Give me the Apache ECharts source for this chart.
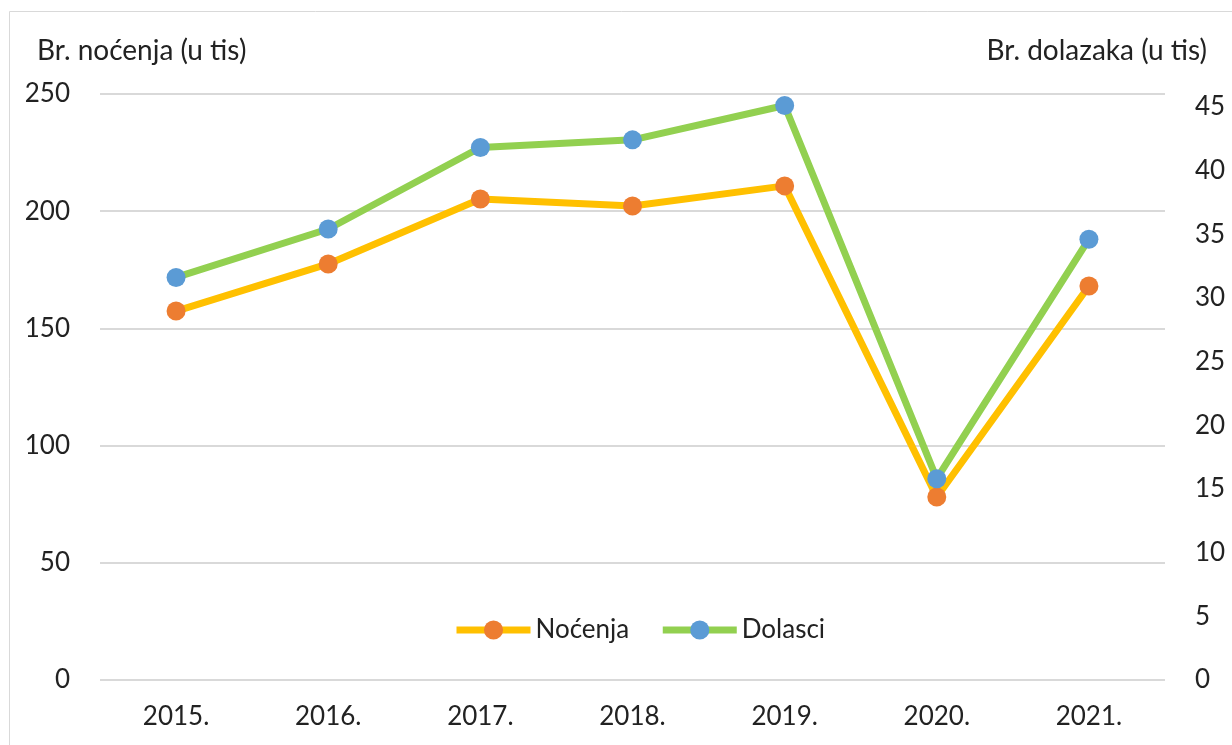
<!DOCTYPE html>
<html>
<head>
<meta charset="utf-8">
<script src="https://cdn.jsdelivr.net/npm/echarts@6/dist/echarts.min.js"></script>
<style>
  html, body { margin: 0; padding: 0; background: #fff; }
  #chart { width: 1232px; height: 745px; }
</style>
</head>
<body>
<div id="chart"></div>
<script>
const years = ['2015.', '2016.', '2017.', '2018.', '2019.', '2020.', '2021.'];
const nocenja = [157.4, 177.5, 205.2, 202.2, 210.8, 78.1, 168.1];
const dolasci = [31.6, 35.4, 41.8, 42.4, 45.1, 15.8, 34.6];

const fontFamily = 'Lato, "Open Sans", sans-serif';
const textColor = '#222';

const chart = echarts.init(document.getElementById('chart'));

chart.setOption({
  textStyle: { fontFamily: fontFamily },
  graphic: [{
    type: 'rect',
    shape: { x: 9.5, y: 11.5, width: 1240, height: 760 },
    style: { fill: 'none', stroke: '#d9d9d9', lineWidth: 1 },
    silent: true
  }],
  title: [
    {
      text: 'Br. noćenja (u tis)', left: 32, top: 32,
      textStyle: { fontFamily: fontFamily, fontSize: 28, fontWeight: 'normal', color: textColor }
    },
    {
      text: 'Br. dolazaka (u tis)', right: 20, top: 32,
      textStyle: { fontFamily: fontFamily, fontSize: 28, fontWeight: 'normal', color: textColor }
    }
  ],
  legend: {
    top: 612,
    left: 448,
    itemWidth: 74,
    itemHeight: 24,
    itemGap: 30,
    lineStyle: { width: 7 },
    textStyle: { fontFamily: fontFamily, fontSize: 26, color: textColor },
    data: ['Noćenja', 'Dolasci']
  },
  grid: { left: 100, right: 67, top: 94, bottom: 65 },
  xAxis: {
    type: 'category',
    data: years,
    axisLine: { show: false },
    axisTick: { show: false },
    axisLabel: { margin: 24, fontSize: 26, color: textColor, fontFamily: fontFamily }
  },
  yAxis: [
    {
      type: 'value',
      min: 0, max: 250, interval: 50,
      axisLine: { show: false },
      axisTick: { show: false },
      axisLabel: { margin: 30, fontSize: 26, color: textColor, fontFamily: fontFamily },
      splitLine: { lineStyle: { color: '#d9d9d9', width: 2 } }
    },
    {
      type: 'value',
      min: 0, max: 46, interval: 5,
      axisLine: { show: false },
      axisTick: { show: false },
      splitLine: { show: false },
      axisLabel: {
        margin: 30, fontSize: 26, color: textColor, fontFamily: fontFamily,
        formatter: v => (v % 5 === 0 ? String(v) : '')
      }
    }
  ],
  series: [
    {
      name: 'Noćenja',
      type: 'line',
      yAxisIndex: 0,
      data: nocenja,
      symbol: 'circle',
      symbolSize: 19,
      lineStyle: { color: '#FFC000', width: 7 },
      itemStyle: { color: '#ED7D31' }
    },
    {
      name: 'Dolasci',
      type: 'line',
      yAxisIndex: 1,
      data: dolasci,
      symbol: 'circle',
      symbolSize: 19,
      lineStyle: { color: '#92D050', width: 7 },
      itemStyle: { color: '#5B9BD5' }
    }
  ]
});
</script>
</body>
</html>
